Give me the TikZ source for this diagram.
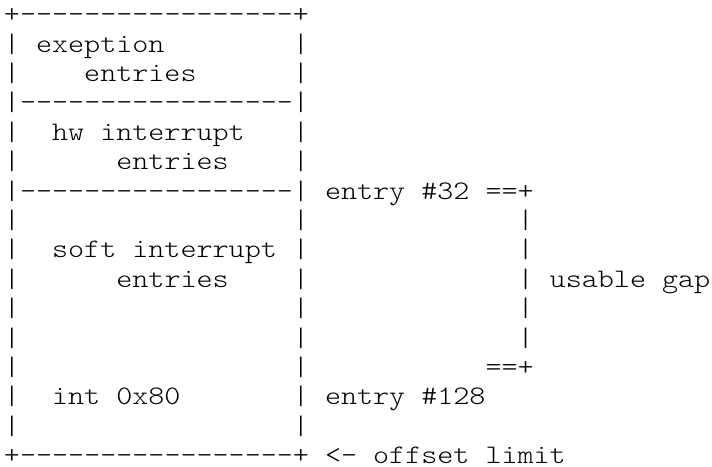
\documentclass[tikz,border=0pt]{standalone}
\usepackage{fontspec}
\newfontfamily\asciifont[Ligatures=TeXOff,FakeStretch=1.143]{lmmonolt10-regular.otf}
\frenchspacing
\tikzset{asc/.style={anchor=base west,inner sep=0pt,outer sep=0pt,
    font=\asciifont\fontsize{26.75pt}{29.4pt}\selectfont}}
\begin{document}
\begin{tikzpicture}[y=-29.4pt]
                \useasboundingbox (-4pt,22.6pt) rectangle (708pt,-443.4pt) ;
                \draw (0,0) node[asc] (l0) {+-----------------+} ;
                \draw (0,1) node[asc] (l1) {|~exeption~~~~~~~~|} ;
                \draw (0,2) node[asc] (l2) {|~~~~entries~~~~~~|} ;
                \draw (0,3) node[asc] (l3) {|-----------------|} ;
                \draw (0,4) node[asc] (l4) {|~~hw interrupt~~~|} ;
                \draw (0,5) node[asc] (l5) {|~~~~~~entries~~~~|} ;
                \draw (0,6) node[asc] (l6) {|-----------------|~entry \#32 ==+} ;
                \draw (0,7) node[asc] (l7) {|~~~~~~~~~~~~~~~~~|~~~~~~~~~~~~~|} ;
                \draw (0,8) node[asc] (l8) {|~~soft interrupt~|~~~~~~~~~~~~~|} ;
                \draw (0,9) node[asc] (l9) {|~~~~~~entries~~~~|~~~~~~~~~~~~~|~usable gap} ;
                \draw (0,10) node[asc] (l10) {|~~~~~~~~~~~~~~~~~|~~~~~~~~~~~~~|} ;
                \draw (0,11) node[asc] (l11) {|~~~~~~~~~~~~~~~~~|~~~~~~~~~~~~~|} ;
                \draw (0,12) node[asc] (l12) {|~~~~~~~~~~~~~~~~~|~~~~~~~~~~~==+} ;
                \draw (0,13) node[asc] (l13) {|~~int 0x80~~~~~~~|~entry \#128} ;
                \draw (0,14) node[asc] (l14) {|~~~~~~~~~~~~~~~~~|} ;
                \draw (0,15) node[asc] (l15) {+-----------------+~<- offset limit} ;
\end{tikzpicture}
\end{document}
